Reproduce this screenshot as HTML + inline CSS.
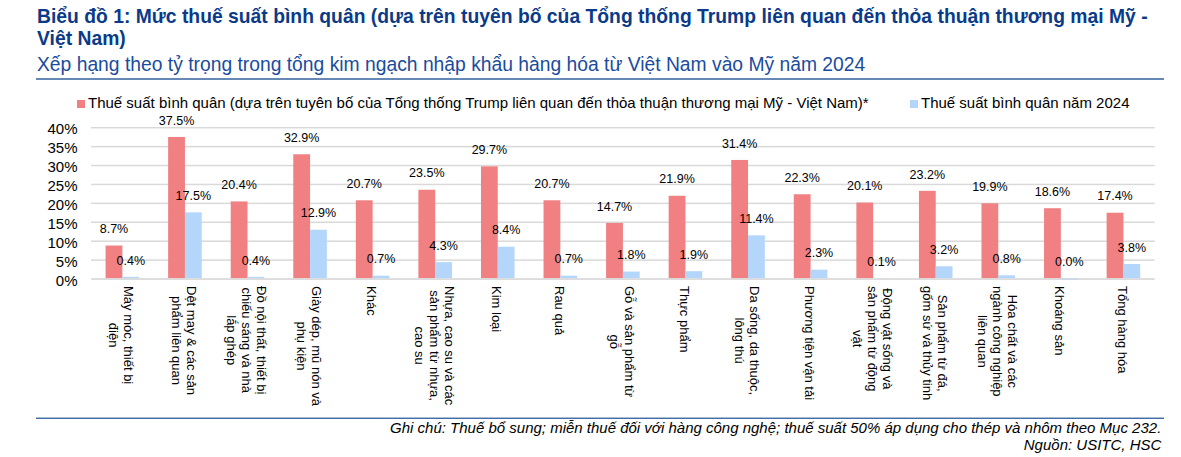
<!DOCTYPE html>
<html><head><meta charset="utf-8">
<style>
html,body{margin:0;padding:0;background:#fff;}
body{width:1181px;height:457px;position:relative;overflow:hidden;font-family:"Liberation Sans",sans-serif;}
.t{position:absolute;left:37px;color:#0a3a88;font-size:19.3px;white-space:nowrap;}
.t1{top:6px;letter-spacing:0.018px;font-weight:bold;line-height:22.3px;}
.t2{top:54px;color:#1a4c9e;line-height:22px;}
.rule1{position:absolute;left:36px;top:78px;width:1128px;height:2px;background:#5b80b6;}
.rule2{position:absolute;left:36px;top:417.6px;width:1128px;height:1.4px;background:#2b5b9c;}
.leg{position:absolute;top:94px;font-size:15px;line-height:17px;white-space:nowrap;color:#000;}
.mk{position:absolute;top:100px;width:8px;height:8px;}
svg{position:absolute;left:0;top:0;}
.yl{position:absolute;left:20px;width:57.5px;text-align:right;font-size:15px;line-height:18px;color:#000;}
.dl{position:absolute;width:80px;text-align:center;font-size:12.5px;line-height:14px;color:#000;white-space:nowrap;}
.xl{position:absolute;transform-origin:0 0;transform:rotate(90deg);font-size:13px;line-height:15px;text-align:center;white-space:nowrap;width:max-content;color:#000;}
.fn{position:absolute;right:19.7px;font-style:italic;font-size:15px;line-height:17px;white-space:nowrap;color:#000;}
</style></head><body>
<div class="t t1">Biểu đồ 1: Mức thuế suất bình quân (dựa trên tuyên bố của Tổng thống Trump liên quan đến thỏa thuận thương mại Mỹ -<br>Việt Nam)</div>
<div class="t t2">Xếp hạng theo tỷ trọng trong tổng kim ngạch nhập khẩu hàng hóa từ Việt Nam vào Mỹ năm 2024</div>

<div class="mk" style="left:77px;background:#f08082"></div>
<div class="leg" style="left:88px">Thuế suất bình quân (dựa trên tuyên bố của Tổng thống Trump liên quan đến thỏa thuận thương mại Mỹ - Việt Nam)*</div>
<div class="mk" style="left:910px;background:#b4d6fa"></div>
<div class="leg" style="left:921px">Thuế suất bình quân năm 2024</div>
<svg width="1181" height="457"><rect x="91.09" y="259.38" width="1063.61" height="1.5" fill="#d9d9d9"/><rect x="91.09" y="240.46" width="1063.61" height="1.5" fill="#d9d9d9"/><rect x="91.09" y="221.54" width="1063.61" height="1.5" fill="#d9d9d9"/><rect x="91.09" y="202.62" width="1063.61" height="1.5" fill="#d9d9d9"/><rect x="91.09" y="183.70" width="1063.61" height="1.5" fill="#d9d9d9"/><rect x="91.09" y="164.78" width="1063.61" height="1.5" fill="#d9d9d9"/><rect x="91.09" y="145.86" width="1063.61" height="1.5" fill="#d9d9d9"/><rect x="91.09" y="126.94" width="1063.61" height="1.5" fill="#d9d9d9"/><rect x="105.57" y="245.54" width="16.8" height="32.81" fill="#f08082"/><rect x="122.37" y="276.84" width="16.8" height="1.51" fill="#b4d6fa"/><rect x="168.14" y="136.94" width="16.8" height="141.41" fill="#f08082"/><rect x="184.94" y="212.36" width="16.8" height="65.99" fill="#b4d6fa"/><rect x="230.70" y="201.42" width="16.8" height="76.93" fill="#f08082"/><rect x="247.50" y="276.84" width="16.8" height="1.51" fill="#b4d6fa"/><rect x="293.27" y="154.28" width="16.8" height="124.07" fill="#f08082"/><rect x="310.07" y="229.70" width="16.8" height="48.65" fill="#b4d6fa"/><rect x="355.83" y="200.29" width="16.8" height="78.06" fill="#f08082"/><rect x="372.63" y="275.71" width="16.8" height="2.64" fill="#b4d6fa"/><rect x="418.40" y="189.73" width="16.8" height="88.62" fill="#f08082"/><rect x="435.20" y="262.13" width="16.8" height="16.22" fill="#b4d6fa"/><rect x="480.96" y="166.35" width="16.8" height="112.00" fill="#f08082"/><rect x="497.76" y="246.67" width="16.8" height="31.68" fill="#b4d6fa"/><rect x="543.53" y="200.29" width="16.8" height="78.06" fill="#f08082"/><rect x="560.33" y="275.71" width="16.8" height="2.64" fill="#b4d6fa"/><rect x="606.10" y="222.92" width="16.8" height="55.43" fill="#f08082"/><rect x="622.90" y="271.56" width="16.8" height="6.79" fill="#b4d6fa"/><rect x="668.66" y="195.77" width="16.8" height="82.58" fill="#f08082"/><rect x="685.46" y="271.19" width="16.8" height="7.16" fill="#b4d6fa"/><rect x="731.23" y="159.94" width="16.8" height="118.41" fill="#f08082"/><rect x="748.03" y="235.36" width="16.8" height="42.99" fill="#b4d6fa"/><rect x="793.79" y="194.26" width="16.8" height="84.09" fill="#f08082"/><rect x="810.59" y="269.68" width="16.8" height="8.67" fill="#b4d6fa"/><rect x="856.36" y="202.55" width="16.8" height="75.80" fill="#f08082"/><rect x="873.16" y="277.97" width="16.8" height="0.38" fill="#b4d6fa"/><rect x="918.92" y="190.86" width="16.8" height="87.49" fill="#f08082"/><rect x="935.72" y="266.28" width="16.8" height="12.07" fill="#b4d6fa"/><rect x="981.49" y="203.31" width="16.8" height="75.04" fill="#f08082"/><rect x="998.29" y="275.33" width="16.8" height="3.02" fill="#b4d6fa"/><rect x="1044.05" y="208.21" width="16.8" height="70.14" fill="#f08082"/><rect x="1106.62" y="212.73" width="16.8" height="65.62" fill="#f08082"/><rect x="1123.42" y="264.02" width="16.8" height="14.33" fill="#b4d6fa"/><rect x="91.09" y="278.20" width="1063.61" height="1.7" fill="#d9d9d9"/><rect x="1060.85" y="278.20" width="16.8" height="1.7" fill="#cbd7e4"/><rect x="36" y="78" width="1128" height="2" fill="#6688b5"/><rect x="36" y="417.6" width="1128" height="1.3" fill="#2f5e9e"/></svg>
<div class="yl" style="top:271.55px">0%</div><div class="yl" style="top:252.63px">5%</div><div class="yl" style="top:233.71px">10%</div><div class="yl" style="top:214.79px">15%</div><div class="yl" style="top:195.87px">20%</div><div class="yl" style="top:176.95px">25%</div><div class="yl" style="top:158.03px">30%</div><div class="yl" style="top:139.11px">35%</div><div class="yl" style="top:120.19px">40%</div><div class="dl" style="left:73.97px;top:222.24px">8.7%</div><div class="dl" style="left:90.77px;top:253.54px">0.4%</div><div class="xl" style="left:136.37px;top:286px">Máy móc, thiết bị<br>điện</div><div class="dl" style="left:136.54px;top:113.64px">37.5%</div><div class="dl" style="left:153.34px;top:189.06px">17.5%</div><div class="xl" style="left:198.94px;top:286px">Dệt may &amp; các sản<br>phẩm liên quan</div><div class="dl" style="left:199.10px;top:178.12px">20.4%</div><div class="dl" style="left:215.90px;top:253.54px">0.4%</div><div class="xl" style="left:269.00px;top:286px">Đồ nội thất, thiết bị<br>chiếu sáng và nhà<br>lắp ghép</div><div class="dl" style="left:261.67px;top:130.98px">32.9%</div><div class="dl" style="left:278.47px;top:206.40px">12.9%</div><div class="xl" style="left:324.07px;top:286px">Giày dép, mũ nón và<br>phụ kiện</div><div class="dl" style="left:324.23px;top:176.99px">20.7%</div><div class="dl" style="left:341.03px;top:252.41px">0.7%</div><div class="xl" style="left:379.13px;top:286px">Khác</div><div class="dl" style="left:386.80px;top:166.43px">23.5%</div><div class="dl" style="left:403.60px;top:238.83px">4.3%</div><div class="xl" style="left:456.70px;top:286px">Nhựa, cao su và các<br>sản phẩm từ nhựa,<br>cao su</div><div class="dl" style="left:449.36px;top:143.05px">29.7%</div><div class="dl" style="left:466.16px;top:223.37px">8.4%</div><div class="xl" style="left:504.26px;top:286px">Kim loại</div><div class="dl" style="left:511.93px;top:176.99px">20.7%</div><div class="dl" style="left:528.73px;top:252.41px">0.7%</div><div class="xl" style="left:566.83px;top:286px">Rau quả</div><div class="dl" style="left:574.50px;top:199.62px">14.7%</div><div class="dl" style="left:591.30px;top:248.26px">1.8%</div><div class="xl" style="left:636.90px;top:286px">Gỗ và sản phẩm từ<br>gỗ</div><div class="dl" style="left:637.06px;top:172.47px">21.9%</div><div class="dl" style="left:653.86px;top:247.89px">1.9%</div><div class="xl" style="left:691.96px;top:286px">Thực phẩm</div><div class="dl" style="left:699.63px;top:136.64px">31.4%</div><div class="dl" style="left:716.43px;top:212.06px">11.4%</div><div class="xl" style="left:762.03px;top:286px">Da sống, da thuộc,<br>lông thú</div><div class="dl" style="left:762.19px;top:170.96px">22.3%</div><div class="dl" style="left:778.99px;top:246.38px">2.3%</div><div class="xl" style="left:817.09px;top:286px">Phương tiện vận tải</div><div class="dl" style="left:824.76px;top:179.25px">20.1%</div><div class="dl" style="left:841.56px;top:254.67px">0.1%</div><div class="xl" style="left:894.66px;top:286px">Động vật sống và<br>sản phẩm từ động<br>vật</div><div class="dl" style="left:887.32px;top:167.56px">23.2%</div><div class="dl" style="left:904.12px;top:242.98px">3.2%</div><div class="xl" style="left:949.72px;top:286px">Sản phẩm từ đá,<br>gốm sứ và thủy tinh</div><div class="dl" style="left:949.89px;top:180.01px">19.9%</div><div class="dl" style="left:966.69px;top:252.03px">0.8%</div><div class="xl" style="left:1019.79px;top:286px">Hóa chất và các<br>ngành công nghiệp<br>liên quan</div><div class="dl" style="left:1012.45px;top:184.91px">18.6%</div><div class="dl" style="left:1029.25px;top:255.05px">0.0%</div><div class="xl" style="left:1067.35px;top:286px">Khoáng sản</div><div class="dl" style="left:1075.02px;top:189.43px">17.4%</div><div class="dl" style="left:1091.82px;top:240.72px">3.8%</div><div class="xl" style="left:1129.92px;top:286px">Tổng hàng hóa</div>

<div class="fn" style="top:418.5px">Ghi chú: Thuế bổ sung; miễn thuế đối với hàng công nghệ; thuế suất 50% áp dụng cho thép và nhôm theo Mục 232.</div>
<div class="fn" style="top:435.5px">Nguồn: USITC, HSC</div>
</body></html>
